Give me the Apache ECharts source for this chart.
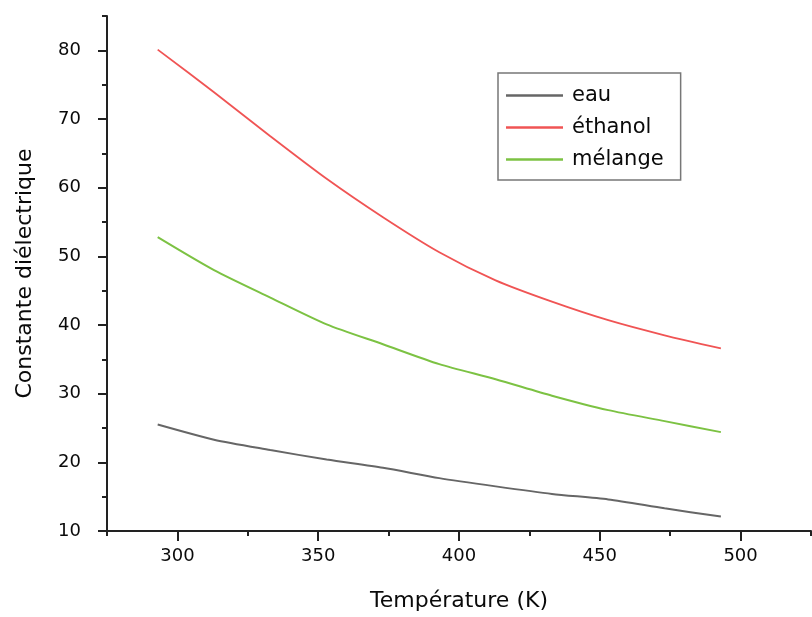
<!DOCTYPE html>
<html>
<head>
<meta charset="utf-8">
<script src="https://cdn.jsdelivr.net/npm/echarts@6/dist/echarts.min.js"></script>
<style>html,body{margin:0;padding:0;background:#fff}#c{width:812px;height:617px}</style>
</head>
<body>
<div id="c"></div>
<script>
const temperatures = [293, 313, 333, 353, 373, 393, 413, 433, 453, 473, 493];
const eau      = [25.5, 23.3, 21.8, 20.4, 19.2, 17.7, 16.5, 15.4, 14.6, 13.3, 12.1];
const ethanol  = [80.1, 73.9, 67.5, 61.3, 55.7, 50.6, 46.5, 43.4, 40.7, 38.5, 36.6];
const melange  = [52.8, 48.0, 44.0, 40.1, 37.2, 34.3, 32.1, 29.7, 27.6, 26.0, 24.4];
const seriesNames = ['eau', 'éthanol', 'mélange'];
const xTicks = [300, 350, 400, 450, 500];
const xMinorTicks = [275, 325, 375, 425, 475, 525];
const yTicks = [10, 20, 30, 40, 50, 60, 70, 80];
const yMinorTicks = [15, 25, 35, 45, 55, 65, 75, 85];

const FONT = 'DejaVu Sans';
const TXT = '#0a0a0a';
const pair = (arr) => temperatures.map((t, i) => [t, arr[i]]);

const chart = echarts.init(document.getElementById('c'), null, {renderer: 'canvas'});
chart.setOption({
  animation: false,
  backgroundColor: '#fff',
  grid: {left: 107, right: 1, top: 16, bottom: 80, containLabel: false},
  legend: {
    orient: 'vertical', left: 498, top: 73,
    data: seriesNames,
    icon: 'rect', itemWidth: 57, itemHeight: 2.5, itemGap: 11,
    padding: [12, 17, 10, 8],
    backgroundColor: '#fff', borderColor: '#777', borderWidth: 1.5,
    textStyle: {fontFamily: FONT, fontSize: 21, color: TXT, lineHeight: 21, padding: [0, 0, 0, 4]}
  },
  xAxis: [{
    type: 'value', min: 275, max: 525, position: 'bottom',
    name: 'Température (K)', nameLocation: 'middle', nameGap: 59,
    nameTextStyle: {fontFamily: FONT, fontSize: 22, color: TXT},
    axisLine: {show: true, onZero: false, lineStyle: {color: '#222', width: 2}},
    axisTick: {show: true, inside: false, length: 10, customValues: xTicks, lineStyle: {color: '#222', width: 2}},
    axisLabel: {customValues: xTicks, margin: 16, fontFamily: FONT, fontSize: 18, color: TXT},
    splitLine: {show: false}
  }, {
    type: 'value', min: 275, max: 525, position: 'bottom',
    axisLine: {show: false, onZero: false},
    axisTick: {show: true, inside: false, length: 5, customValues: xMinorTicks, lineStyle: {color: '#222', width: 2}},
    axisLabel: {show: false},
    splitLine: {show: false}
  }],
  yAxis: [{
    type: 'value', min: 10, max: 85, position: 'left',
    name: 'Constante diélectrique', nameLocation: 'middle', nameGap: 71,
    nameTextStyle: {fontFamily: FONT, fontSize: 22, color: TXT},
    axisLine: {show: true, onZero: false, lineStyle: {color: '#222', width: 2}},
    axisTick: {show: true, inside: false, length: 9, customValues: yTicks, lineStyle: {color: '#222', width: 2}},
    axisLabel: {customValues: yTicks, margin: 26, fontFamily: FONT, fontSize: 18, color: TXT},
    splitLine: {show: false}
  }, {
    type: 'value', min: 10, max: 85, position: 'left',
    axisLine: {show: false, onZero: false},
    axisTick: {show: true, inside: false, length: 5, customValues: yMinorTicks, lineStyle: {color: '#222', width: 2}},
    axisLabel: {show: false},
    splitLine: {show: false}
  }],
  series: [
    {name: seriesNames[0], type: 'line', data: pair(eau), symbol: 'none', smooth: 0.25,
     color: '#666666', lineStyle: {color: '#666666', width: 2}},
    {name: seriesNames[1], type: 'line', data: pair(ethanol), symbol: 'none', smooth: 0.25,
     color: '#f05454', lineStyle: {color: '#f05454', width: 1.8}},
    {name: seriesNames[2], type: 'line', data: pair(melange), symbol: 'none', smooth: 0.25,
     color: '#7cc243', lineStyle: {color: '#7cc243', width: 2}}
  ]
});
</script>
</body>
</html>
